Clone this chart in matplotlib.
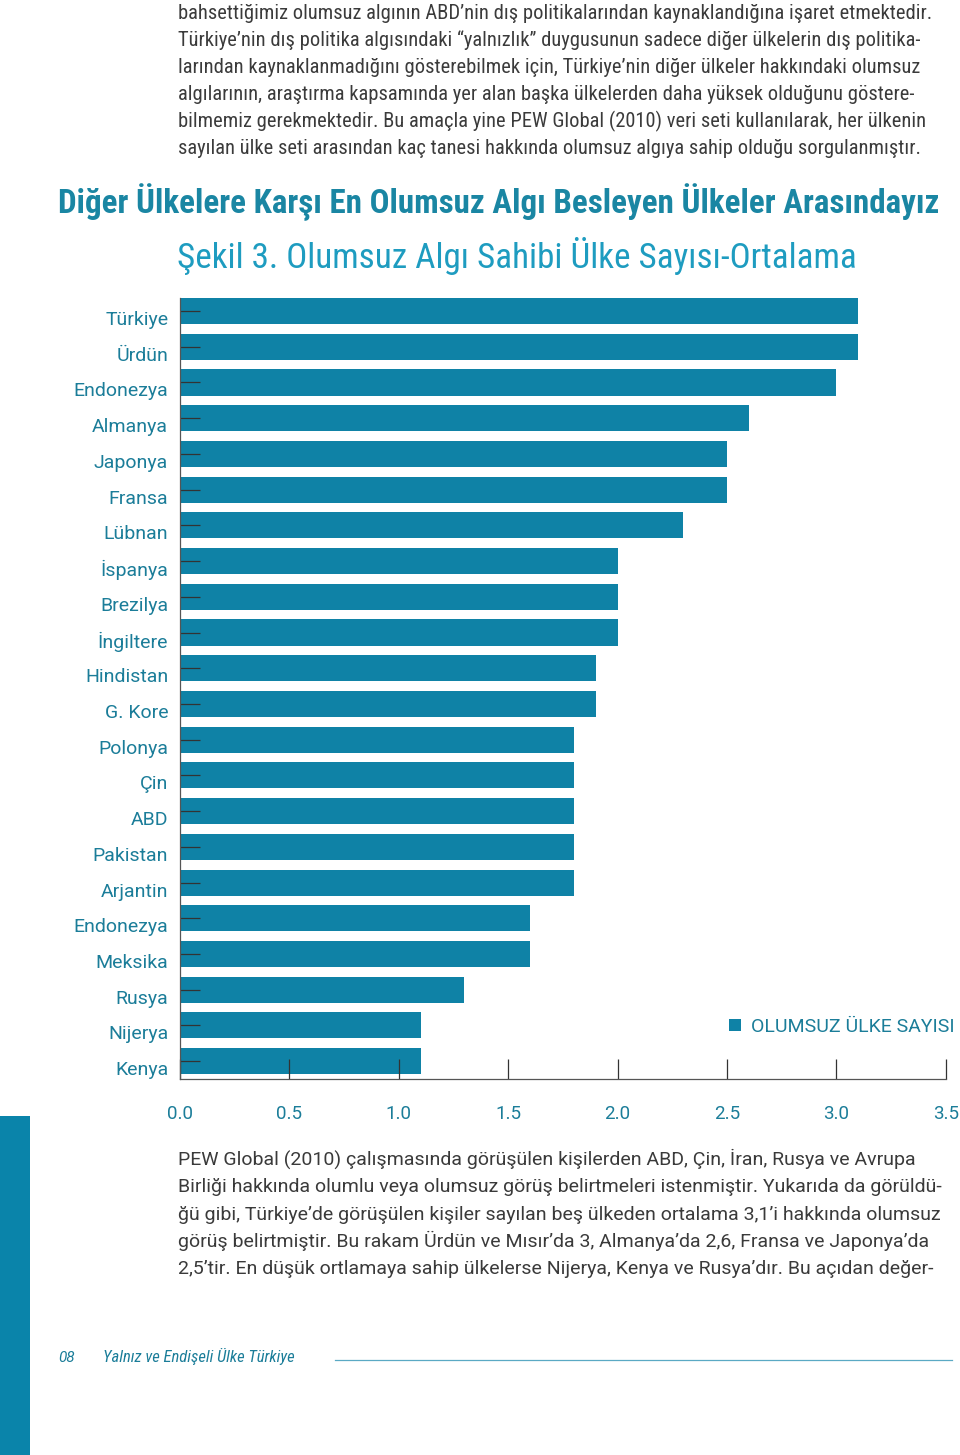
import matplotlib
matplotlib.use('Agg')
import matplotlib.pyplot as plt
from matplotlib import font_manager as fm
from matplotlib.transforms import ScaledTranslation
from matplotlib.patches import Rectangle
from matplotlib.lines import Line2D

countries = ['Türkiye', 'Ürdün', 'Endonezya', 'Almanya', 'Japonya', 'Fransa', 'Lübnan',
             'İspanya', 'Brezilya', 'İngiltere', 'Hindistan', 'G. Kore', 'Polonya', 'Çin',
             'ABD', 'Pakistan', 'Arjantin', 'Endonezya', 'Meksika', 'Rusya', 'Nijerya', 'Kenya']
values = [3.1, 3.1, 3.0, 2.6, 2.5, 2.5, 2.3,
          2.0, 2.0, 2.0, 1.9, 1.9, 1.8, 1.8,
          1.8, 1.8, 1.8, 1.6, 1.6, 1.3, 1.1, 1.1]
xticks = [0.0, 0.5, 1.0, 1.5, 2.0, 2.5, 3.0, 3.5]
series_name = 'OLUMSUZ ÜLKE SAYISI'

title = 'Diğer Ülkelere Karşı En Olumsuz Algı Besleyen Ülkeler Arasındayız'
subtitle = 'Şekil 3. Olumsuz Algı Sahibi Ülke Sayısı-Ortalama'
top_lines = [
    'bahsettiğimiz olumsuz algının ABD’nin dış politikalarından kaynaklandığına işaret etmektedir.',
    'Türkiye’nin dış politika algısındaki “yalnızlık” duygusunun sadece diğer ülkelerin dış politika-',
    'larından kaynaklanmadığını gösterebilmek için, Türkiye’nin diğer ülkeler hakkındaki olumsuz',
    'algılarının, araştırma kapsamında yer alan başka ülkelerden daha yüksek olduğunu göstere-',
    'bilmemiz gerekmektedir. Bu amaçla yine PEW Global (2010) veri seti kullanılarak, her ülkenin',
    'sayılan ülke seti arasından kaç tanesi hakkında olumsuz algıya sahip olduğu sorgulanmıştır.',
]
bottom_lines = [
    'PEW Global (2010) çalışmasında görüşülen kişilerden ABD, Çin, İran, Rusya ve Avrupa',
    'Birliği hakkında olumlu veya olumsuz görüş belirtmeleri istenmiştir. Yukarıda da görüldü-',
    'ğü gibi, Türkiye’de görüşülen kişiler sayılan beş ülkeden ortalama 3,1’i hakkında olumsuz',
    'görüş belirtmiştir. Bu rakam Ürdün ve Mısır’da 3, Almanya’da 2,6, Fransa ve Japonya’da',
    '2,5’tir. En düşük ortlamaya sahip ülkelerse Nijerya, Kenya ve Rusya’dır. Bu açıdan değer-',
]
page_no = '08'
footer = 'Yalnız ve Endişeli Ülke Türkiye'

names = {f.name for f in fm.fontManager.ttflist}
def pick(*cands):
    for c in cands:
        if c in names:
            return c
    return 'DejaVu Sans'

narrow = pick('Liberation Sans Narrow', 'Roboto Condensed', 'Open Sans Condensed', 'Roboto')
ui = pick('Roboto', 'Lato', 'DejaVu Sans')

bar_c = '#0f82a6'
teal = '#1b7d99'
head_c = '#1a86a3'
sub_c = '#1e9cc0'
body_c = '#3b3b3b'

W, H = 960, 1455
fig = plt.figure(figsize=(W / 100, H / 100), dpi=100)
fig.patch.set_facecolor('white')

def fx(x):
    return x / W

def fy(y):
    return 1 - y / H

# page text above the chart
for i, line in enumerate(top_lines):
    fig.text(fx(178), fy(19 + 27 * i), line, family=narrow, fontsize=14.8,
             color=body_c, va='baseline', ha='left')
fig.text(fx(58), fy(213), title, family=narrow, fontsize=23.8, weight='bold',
         color=head_c, va='baseline')
fig.text(fx(177), fy(268), subtitle, family=narrow, fontsize=25.3,
         color=sub_c, va='baseline')

# chart
ax = fig.add_axes([fx(180), fy(1079), fx(945.7) - fx(180), fy(298) - fy(1079)])
pos = list(range(len(countries)))
ax.barh(pos, values, height=0.73, color=bar_c, label=series_name)
ax.set_xlim(0, 3.5)
ax.set_ylim(21.5, -0.365)
ax.set_yticks(pos)
ax.set_yticklabels(countries, family=ui, fontsize=14, color=teal)
ax.set_xticks(xticks)
ax.set_xticklabels(['{:.1f}'.format(t) for t in xticks], family=ui, fontsize=13.5, color=teal)
ax.tick_params(axis='y', direction='in', length=14.4, width=0.9, color='#333333', pad=8.5)
ax.tick_params(axis='x', direction='in', length=14.4, width=0.9, color='#333333', pad=19)
for lab in ax.get_yticklabels():
    lab.set_transform(lab.get_transform() + ScaledTranslation(0, -7 / 100, fig.dpi_scale_trans))
for s in ['top', 'right']:
    ax.spines[s].set_visible(False)
for s in ['left', 'bottom']:
    ax.spines[s].set_color('#555555')
    ax.spines[s].set_linewidth(0.9)

leg = ax.legend(loc='center left', bbox_to_anchor=(fx(729), fy(1027)),
                bbox_transform=fig.transFigure, frameon=False,
                handlelength=0.62, handleheight=0.62, handletextpad=0.5,
                borderpad=0, borderaxespad=0, prop={'family': ui, 'size': 14})
for t in leg.get_texts():
    t.set_color(teal)

# page text below the chart
for i, line in enumerate(bottom_lines):
    fig.text(fx(178), fy(1165 + 27.3 * i), line, family=ui, fontsize=14.0,
             weight='normal', color='#3a3a3a', va='baseline')

# page decoration
fig.add_artist(Rectangle((0, 0), fx(30), fy(1116), transform=fig.transFigure,
                         color='#0a84aa', lw=0))
fig.text(fx(58), fy(1362), page_no, family=ui, fontsize=11, style='italic',
         color=teal, va='baseline')
fig.text(fx(103), fy(1362), footer, family=narrow, fontsize=12, style='italic',
         color=teal, va='baseline')
fig.add_artist(Line2D([fx(335), fx(952)], [fy(1360), fy(1360)], transform=fig.transFigure,
                      color='#5aa9c4', lw=0.9))

fig.savefig('out.png', dpi=100)
